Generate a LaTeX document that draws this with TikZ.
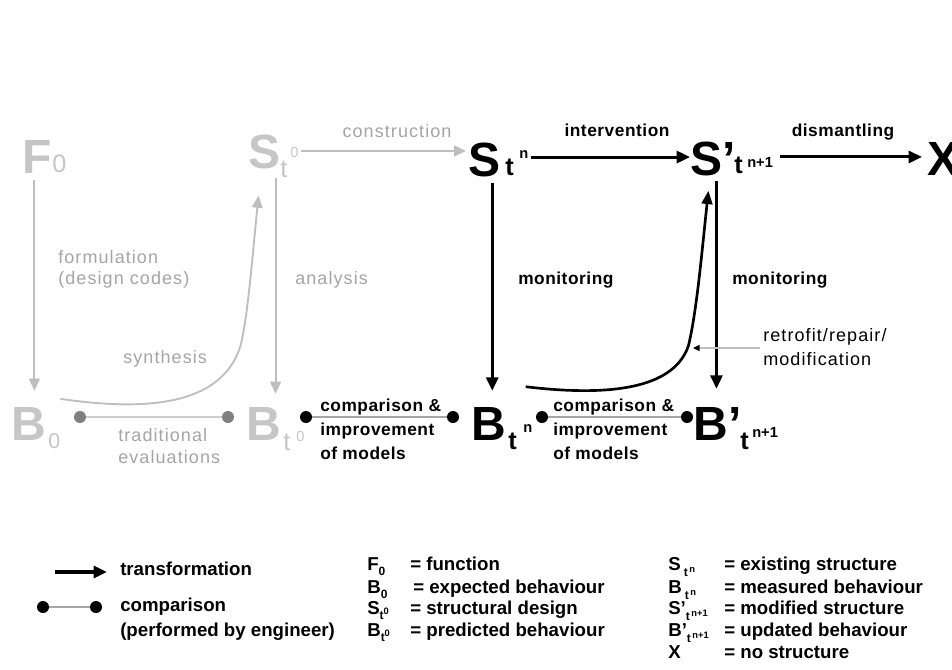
\documentclass[tikz,border=0pt]{standalone}
\usepackage{fontspec}
\setmainfont{Liberation Sans}
\newfontfamily\lsfont[LetterSpace=3]{Liberation Sans}
\newfontfamily\gsfont[LetterSpace=6]{Liberation Sans}
\usetikzlibrary{arrows.meta,calc}
\definecolor{lgray}{RGB}{190,190,190}
\definecolor{tgray}{RGB}{165,165,165}
\definecolor{bgray}{RGB}{198,198,198}
\definecolor{dgray}{RGB}{128,128,128}
\definecolor{cgray}{RGB}{165,165,165}
\definecolor{trgray}{RGB}{205,205,205}
\newcommand{\lsub}[4]{\raisebox{-#3pt}{\fontsize{9}{9}\selectfont #1}\raisebox{-#4pt}{\fontsize{7}{7}\selectfont #2}}
\tikzset{
  bigsym/.style={inner sep=0pt, anchor=base west, font=\fontsize{36}{36}\selectfont\bfseries},
  gsub/.style={inner sep=0pt, anchor=base west, text=bgray, font=\fontsize{19}{19}\selectfont},
  gsup/.style={inner sep=0pt, anchor=base west, text=bgray, font=\fontsize{11}{11}\selectfont},
  bsub/.style={inner sep=0pt, anchor=base west, font=\fontsize{19}{19}\selectfont\bfseries},
  bsup/.style={inner sep=0pt, anchor=base west, font=\fontsize{11}{11}\selectfont\bfseries},
  blbl/.style={inner sep=0pt, anchor=base, font=\fontsize{13}{13}\lsfont\bfseries},
  glbl/.style={inner sep=0pt, anchor=base, text=tgray, font=\fontsize{13.5}{13.5}\gsfont},
  rlbl/.style={inner sep=0pt, anchor=base west, font=\fontsize{13.5}{13.5}\gsfont},
  leg/.style={inner sep=0pt, anchor=base west, font=\fontsize{14}{14}\selectfont\bfseries},
  tarrow/.style={line width=2.2pt, -{Triangle[length=10pt,width=9pt]}},
  tcurve/.style={line width=2pt, -{Triangle[length=10pt,width=8pt]}},
  garrow/.style={line width=1.5pt, lgray, -{Triangle[length=9pt,width=8pt]}},
  gcurve/.style={line width=1.4pt, lgray, -{Triangle[length=9pt,width=8pt]}},
  cmpline/.style={line width=2.2pt, cgray},
  trline/.style={line width=2.2pt, trgray},
  cdot/.style={circle, fill=black, inner sep=0pt, minimum size=9pt},
  gdot/.style={circle, fill=dgray, inner sep=0pt, minimum size=9pt}
}
\begin{document}
\begin{tikzpicture}[x=0.75pt,y=-0.75pt]
\fill[white] (0,0) rectangle (952,669);
\useasboundingbox (0,0) rectangle (952,669);

% ---- grey (design) symbols
\node[bigsym,text=bgray] (F0) at (22,173) {F};
\node[gsub,font=\fontsize{19}{19}\selectfont] (F0s) at (52,172) {0};
\node[bigsym,text=bgray] (B0) at (11.5,440) {B};
\node[gsub,font=\fontsize{16}{16}\selectfont] (B0s) at (48,448) {0};
\node[bigsym,text=bgray] (St0) at (248,168) {S};
\node[gsub] (St0s) at (280,177) {t};
\node[gsup] (St0p) at (290,157) {0};
\node[bigsym,text=bgray] (Bt0) at (246.5,440) {B};
\node[gsub] (Bt0s) at (283,450) {t};
\node[gsup] (Bt0p) at (296,441) {0};

% ---- black (existing) symbols
\node[bigsym] (Stn) at (468,176) {S};
\node[bsub] (Stns) at (505,175) {t};
\node[bsup] (Stnp) at (519,158) {n};
\node[bigsym] (Sp) at (690,175) {S’};
\node[bsub] (Sps) at (734,173) {t};
\node[bsup] (Spp) at (747,167) {n+1};
\node[bigsym] (X) at (927,175) {X};
\node[bigsym] (Btn) at (471.5,440) {B};
\node[bsub] (Btns) at (508,449) {t};
\node[bsup] (Btnp) at (523,432) {n};
\node[bigsym] (Bp) at (693.5,440) {B’};
\node[bsub] (Bps) at (740,449) {t};
\node[bsup] (Bpp) at (752,437) {n+1};

% ---- grey arrows
\draw[garrow] ($(F0.south)+(-2.5,7)$) -- ($(F0.south |- B0.north)+(-2.5,-16)$);
\draw[garrow] ($(St0.south east)+(-5,9)$) -- ($(St0.south east |- Bt0.north)+(-5,-13)$);
\draw[garrow] ($(St0p.east)+(2,-1)$) -- ($(St0p.east -| Stn.west)+(-2,-1)$);
\coordinate (synA) at ($(B0s.north east)+(0,-34)$);
\coordinate (synM) at ($(St0.south east)+(-40,177)$);
\coordinate (synB) at ($(St0.south east)+(-22,27)$);
\draw[gcurve] (synA) .. controls (170,415) and (225,395) .. (synM) .. controls (248,315) and (252,260) .. (synB);

% ---- black arrows
\draw[tarrow] ($(Stnp.east)+(2,3)$) -- ($(Stnp.east -| Sp.west)+(0,3)$);
\draw[tarrow] ($(Spp.east)+(7,-5)$) -- ($(Spp.east -| X.west)+(-5,-5)$);
\draw[tarrow] ($(Stn.south)+(8,6)$) -- ($(Stn.south |- Btn.north)+(8,-16)$);
\draw[tarrow] ($(Sp.south)+(3.5,5)$) -- ($(Sp.south |- Bp.north)+(3.5,-18)$);
\coordinate (rA) at ($(Btn.north east)+(19,-20)$);
\coordinate (rM) at ($(Sp.south)+(-24.5,170)$);
\coordinate (rB) at ($(Sp.south)+(-4.5,15)$);
\draw[tcurve] (rA) .. controls (620,398) and (675,385) .. (rM) .. controls (697,310) and (702,250) .. (rB);

% ---- retrofit pointer
\node[rlbl] (rt1) at (763,341) {retrofit/repair/};
\node[rlbl] (rt2) at (763,365) {modification};
\coordinate (rtTip) at (693,349);
\coordinate (rtS) at ($(rt1.base west)+(-3,7)$);
\draw[line width=1.1pt, lgray, -{Triangle[length=5pt,width=4.5pt,color=black]}] (rtS) -- (rtS -| rtTip);

% ---- comparisons
\node[gdot] (g1) at (80,417) {};
\node[gdot] (g2) at (228,417) {};
\draw[trline] (g1) -- (g2);
\node[cdot] (c1) at (306,417) {};
\node[cdot] (c2) at (453,417) {};
\draw[cmpline] (c1) -- (c2);
\node[cdot] (c3) at (542,417) {};
\node[cdot] (c4) at (687,417) {};
\draw[cmpline] (c3) -- (c4);

% ---- labels
\node[glbl] (lcons) at (397,137) {construction};
\node[blbl] (lint) at (617,136) {intervention};
\node[blbl] (ldis) at (843,136) {dismantling};
\node[glbl,anchor=base west] (lform1) at (58,263) {formulation};
\node[glbl,anchor=base west] (lform2) at (58,284) {(design codes)};
\node[glbl,anchor=base west] (lana) at (295,284) {analysis};
\node[blbl,anchor=base west] (lmon1) at (518,284) {monitoring};
\node[blbl,anchor=base west] (lmon2) at (732,284) {monitoring};
\node[glbl,anchor=base west] (lsyn) at (123,363) {synthesis};
\node[glbl,anchor=base west] (ltr1) at (118,441) {traditional};
\node[glbl,anchor=base west] (ltr2) at (118,463) {evaluations};
\node[blbl,anchor=base west] (lc1a) at (320,411) {comparison \&};
\node[blbl,anchor=base west] (lc1b) at (320,435) {improvement};
\node[blbl,anchor=base west] (lc1c) at (320,459) {of models};
\node[blbl,anchor=base west] (lc2a) at (553,411) {comparison \&};
\node[blbl,anchor=base west] (lc2b) at (553,435) {improvement};
\node[blbl,anchor=base west] (lc2c) at (553,459) {of models};

% ---- legend
\coordinate (lgA) at (55,572);
\coordinate (lgB) at (107,572);
\draw[line width=2.4pt, -{Triangle[length=10pt,width=9pt]}] (lgA) -- (lgB);
\node[cdot] (lg1) at (43,607) {};
\node[cdot] (lg2) at (96,607) {};
\draw[cmpline] (lg1) -- (lg2);
\node[leg] (lgt1) at (120,575) {transformation};
\node[leg] (lgt2) at (120,611) {comparison};
\node[leg] (lgt3) at (120,636) {(performed by engineer)};

\node[leg] (m1) at (367,570) {F\lsub{0}{}{4}{0}};
\node[leg] (m2) at (367,593) {B\lsub{0}{}{4}{0}};
\node[leg] (m3) at (367,614) {S\lsub{t}{0}{4}{0.5}};
\node[leg] (m4) at (367,636) {B\lsub{t}{0}{4}{0.5}};
\node[leg] (m1e) at (410,570) {= function};
\node[leg] (m2e) at (413,593) {= expected behaviour};
\node[leg] (m3e) at (410,614) {= structural design};
\node[leg] (m4e) at (410,636) {= predicted behaviour};

\node[leg] (r1) at (668,570) {S\,\lsub{t}{\,n}{5}{2}};
\node[leg] (r2) at (668,593) {B\,\lsub{t}{\,n}{5}{2}};
\node[leg] (r3) at (668,614) {S’\lsub{t}{\,n+1}{5}{2}};
\node[leg] (r4) at (668,636) {B’\lsub{t}{\,n+1}{5}{2}};
\node[leg] (r5) at (668,658) {X};
\node[leg] (r1e) at (724,570) {= existing structure};
\node[leg] (r2e) at (724,593) {= measured behaviour};
\node[leg] (r3e) at (724,614) {= modified structure};
\node[leg] (r4e) at (724,636) {= updated behaviour};
\node[leg] (r5e) at (724,658) {= no structure};
\end{tikzpicture}
\end{document}
